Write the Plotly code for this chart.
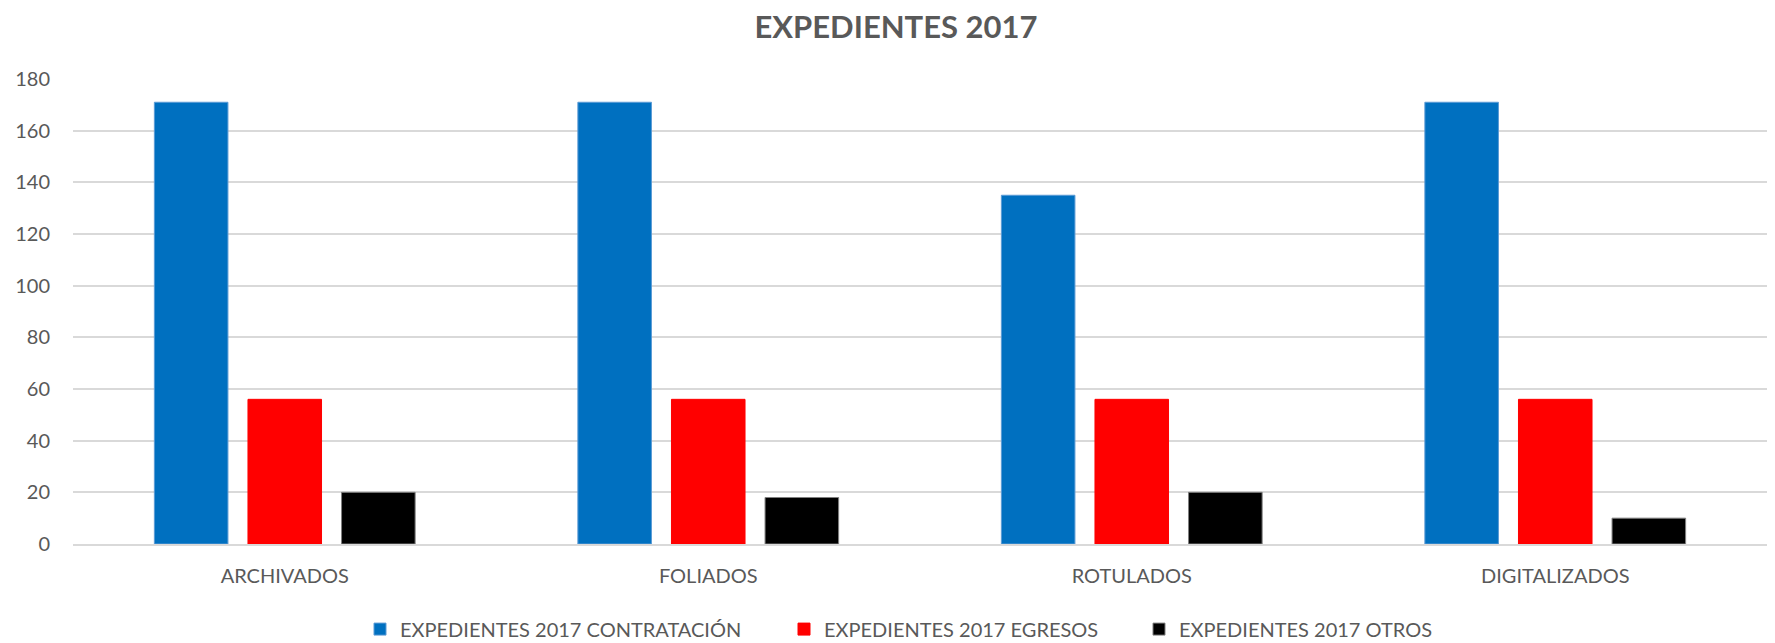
import plotly.graph_objects as go

# -- datos -- #
categorias = ['ARCHIVADOS', 'FOLIADOS', 'ROTULADOS', 'DIGITALIZADOS']
contratacion = [171, 171, 135, 171]
egresos = [56, 56, 56, 56]
otros = [20, 18, 20, 10]

series = [('EXPEDIENTES 2017 CONTRATACIÓN', contratacion, '#0070C0', '#5b9bd5'),
          ('EXPEDIENTES 2017 EGRESOS', egresos, '#FF0000', '#FF0000'),
          ('EXPEDIENTES 2017 OTROS', otros, '#000000', '#7f7f7f')]

texto = '#595959'
fuente = 'Lato'

# the page body keeps its default 8px margin, so the figure is 8px smaller
W, H = 1767, 635

# one legend per series so each entry sits where the original has it
leyendas = ['legend', 'legend2', 'legend3']
leyenda_x = [352, 776, 1131]

# -- grafico -- #
fig = go.Figure()
for (nombre, valores, color, borde), ley in zip(series, leyendas):
    fig.add_trace(go.Bar(x=categorias, y=valores, name=nombre, legend=ley,
                         showlegend=True,
                         marker=dict(color=color, line=dict(color=borde, width=1))))

fig.update_layout(
    width=W, height=H,
    showlegend=True,
    margin=dict(l=65, r=8, t=71, b=99, autoexpand=False),
    paper_bgcolor='white', plot_bgcolor='white',
    barmode='group', bargap=0.337, bargroupgap=0.214,
    font=dict(family=fuente, size=20, color=texto),
    title=dict(text='<b>EXPEDIENTES 2017</b>',
               font=dict(family=fuente, size=31, color=texto),
               x=888 / W, xanchor='center',
               y=1 - 19 / H, yanchor='middle'),
)
for ley, lx in zip(leyendas, leyenda_x):
    fig.update_layout({ley: dict(orientation='h', xref='container', x=lx / W,
                                 xanchor='left', y=-0.183, yanchor='middle',
                                 bgcolor='rgba(0,0,0,0)',
                                 font=dict(family=fuente, size=20, color=texto))})

fig.update_yaxes(range=[0, 180], dtick=20, showgrid=True,
                 gridcolor='#d9d9d9', gridwidth=1.5,
                 zeroline=False, showline=False,
                 ticklabelstandoff=22,
                 tickfont=dict(family=fuente, size=20, color=texto))
fig.update_xaxes(showline=True, linecolor='#d9d9d9', linewidth=1.5,
                 ticks='', ticklabelstandoff=13,
                 tickfont=dict(family=fuente, size=20, color=texto))

fig.write_html('out.html')
